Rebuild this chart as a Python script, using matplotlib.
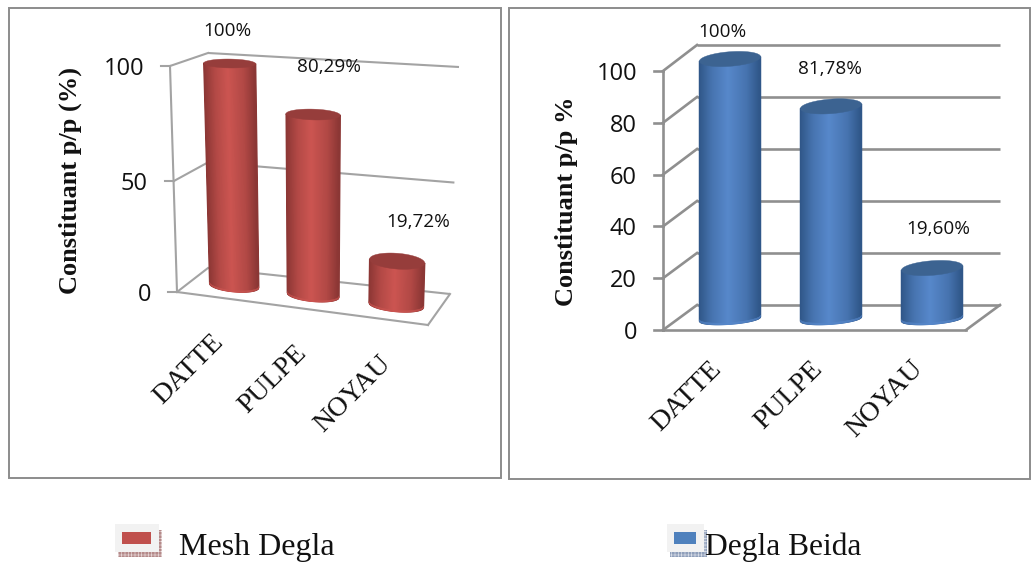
import numpy as np
import matplotlib
matplotlib.use('Agg')
import matplotlib.pyplot as plt
from matplotlib.collections import PolyCollection
from matplotlib.patches import Rectangle
from matplotlib.transforms import Transform

categories = ['DATTE', 'PULPE', 'NOYAU']

mesh_values = [100, 80.29, 19.72]
mesh_labels = ['100%', '80,29%', '19,72%']
mesh_ticks = [0, 50, 100]

beida_values = [100, 81.78, 19.60]
beida_labels = ['100%', '81,78%', '19,60%']
beida_ticks = [0, 20, 40, 60, 80, 100]

SERIF = 'Liberation Serif'
SANS = 'Open Sans'


class Plane(Transform):
    """Projective map from (category, value) to page pixels, set by four corners."""
    input_dims = 2
    output_dims = 2

    def __init__(self, src, dst):
        super().__init__()
        A, b = [], []
        for (x, y), (u, v) in zip(src, dst):
            A.append([x, y, 1, 0, 0, 0, -u * x, -u * y])
            A.append([0, 0, 0, x, y, 1, -v * x, -v * y])
            b += [u, v]
        self.h = np.append(np.linalg.solve(np.array(A, float), np.array(b, float)), 1).reshape(3, 3)

    def transform_non_affine(self, xy):
        xy = np.asarray(xy, float)
        p = np.column_stack([xy, np.ones(len(xy))]) @ self.h.T
        return p[:, :2] / p[:, 2:]


def mix(c0, c1, t):
    return np.array(c0) + (np.array(c1) - np.array(c0)) * t


def rgb(h):
    return np.array(matplotlib.colors.to_rgb(h))


def cylinder(ax, tr, i, value, half, b_base, b_top, tilt, light, dark, top):
    u = np.linspace(-1, 1, 61)
    x = i + half * u
    arc = np.sqrt(1 - u ** 2)
    low = tilt * u - b_base * arc
    high = value + tilt * u - b_top(value) * arc
    rim = low + 0.6

    # solid silhouette first so the shading strips leave no seams
    ax.fill(np.r_[x, x[::-1]], np.r_[low, high[::-1]], color=mix(rgb(dark), rgb(light), 0.6), lw=0,
            transform=tr, zorder=2.9)

    verts, cols, rim_verts, rim_cols = [], [], [], []
    shade = np.interp((u[:-1] + u[1:]) / 2, [-1, -0.55, -0.05, 0.55, 1], [0.0, 0.62, 1.0, 0.6, 0.0])
    for k in range(len(u) - 1):
        c = mix(rgb(dark), rgb(light), shade[k])
        verts.append([(x[k], low[k]), (x[k + 1], low[k + 1]), (x[k + 1], high[k + 1]), (x[k], high[k])])
        cols.append(c)
        rim_verts.append([(x[k], low[k]), (x[k + 1], low[k + 1]), (x[k + 1], rim[k + 1]), (x[k], rim[k])])
        rim_cols.append(mix(c, rgb(light), 0.7))
    ax.add_collection(PolyCollection(verts, facecolors=cols, edgecolors=cols, linewidths=0.9,
                                     transform=tr, zorder=3), autolim=False)
    ax.add_collection(PolyCollection(rim_verts, facecolors=rim_cols, edgecolors=rim_cols, linewidths=0.3,
                                     transform=tr, zorder=3.1), autolim=False)

    t = np.linspace(0, 2 * np.pi, 90)
    ax.fill(i + half * np.cos(t), value + tilt * np.cos(t) + b_top(value) * np.sin(t),
            color=top, lw=0.3, transform=tr, zorder=4)


def draw_walls(ax, front, back, ticks, color, lw):
    xmin, xmax = -0.5, 2.5
    to_page = ax.transData
    for v in ticks:
        ax.plot([xmin, xmax], [v, v], color=color, lw=lw, transform=back + to_page, zorder=1,
                solid_capstyle='butt')
        a = front.transform([[xmin, v]])[0]
        c = back.transform([[xmin, v]])[0]
        ax.plot([a[0], c[0]], [a[1], c[1]], color=color, lw=lw, zorder=1)
        ax.plot([a[0] - 9, a[0]], [a[1], a[1]], color=color, lw=lw, zorder=1)
    ax.plot([xmin, xmin], [ticks[0], ticks[-1]], color=color, lw=lw, transform=front + to_page, zorder=1)
    ax.plot([xmin, xmax], [0, 0], color=color, lw=lw, transform=front + to_page, zorder=1)
    a = front.transform([[xmax, 0]])[0]
    c = back.transform([[xmax, 0]])[0]
    ax.plot([a[0], c[0]], [a[1], c[1]], color=color, lw=lw, zorder=1)


def axis_text(ax, front, ticks, cat_offset):
    tr = front + ax.transData
    for v in ticks:
        ax.annotate(str(v), xy=(-0.5, v), xycoords=tr, xytext=(-26, -3), textcoords='offset pixels',
                    ha='right', va='center', fontsize=17, family=SANS, color='#111111')
    for i, name in enumerate(categories):
        ax.annotate(name, xy=(i, 0), xycoords=tr, xytext=cat_offset, textcoords='offset pixels',
                    ha='right', va='center', rotation=45, rotation_mode='anchor',
                    fontsize=20, family=SERIF, color='#111111')


def frame(ax, x0, y0, x1, y1):
    ax.add_patch(Rectangle((x0, y0), x1 - x0, y1 - y0, fill=False, ec='#8c8c8c', lw=1.4, zorder=0))


def legend_key(ax, x0, width, face, shadow):
    ax.add_patch(Rectangle((x0 + 3, 530), width, 27, fc=shadow, ec='white', hatch='+++++', lw=0, zorder=1))
    ax.add_patch(Rectangle((x0, 524), width, 28, fc='#f2f2f2', ec='none', zorder=2))
    ax.add_patch(Rectangle((x0 + 7, 532), width - 15, 12, fc=face, ec='none', zorder=3))


plt.rcParams['hatch.linewidth'] = 0.3

fig = plt.figure(figsize=(10.34, 5.63), dpi=100)
page = fig.add_axes([0, 0, 1, 1])
page.set_xlim(0, 1034)
page.set_ylim(563, 0)
page.axis('off')

frame(page, 9, 8, 501, 478)
frame(page, 509, 8, 1030, 479)

corners = [(-0.5, 0), (2.5, 0), (-0.5, 100), (2.5, 100)]
bar_corners = [(0, 0), (2, 0), (0, 100), (2, 100)]

# left chart, tilted in perspective
front = Plane(corners, [(177, 292), (428, 325), (170, 66), (431, 95)])
back = Plane(corners, [(208, 268), (450, 294), (208, 53), (459, 67)])
bars = Plane(bar_corners, [(234, 285.5), (396, 305), (229.5, 63.5), (401, 72)])
draw_walls(page, front, back, mesh_ticks, '#a3a3a3', 1.5)
axis_text(page, front, mesh_ticks, (2, -41))
for i, v in enumerate(mesh_values):
    cylinder(page, bars + page.transData, i, v, 0.32, 3.0, lambda val: 3.9 - 0.02 * val, 0.4,
             '#cc5551', '#8a3634', '#963d3b')
for v, s, pos in zip(mesh_values, mesh_labels, [(227, 31), (329, 67), (418, 222)]):
    page.text(pos[0], pos[1], s, ha='center', va='center', fontsize=13.6, family=SANS, color='#111111', zorder=5)
page.text(70, 180, 'Constituant p/p (%)', rotation=90, ha='center', va='center',
          fontsize=19, family=SERIF, weight='bold', color='#111111')

# right chart, straight on
front = Plane(corners, [(663, 330), (966, 330), (663, 71), (966, 71)])
back = Plane(corners, [(697, 305), (1000, 305), (697, 45), (1000, 45)])
bars = Plane(bar_corners, [(730, 319), (932, 319), (730, 59), (932, 59)])
draw_walls(page, front, back, beida_ticks, '#8f8f8f', 1.9)
axis_text(page, front, beida_ticks, (4, -35))
for i, v in enumerate(beida_values):
    cylinder(page, bars + page.transData, i, v, 0.303, 2.0, lambda val: 2.8, 0.85,
             '#5788cb', '#2f5687', '#3c6391')
for v, s, pos in zip(beida_values, beida_labels, [(722, 32), (830, 69), (938, 229)]):
    page.text(pos[0], pos[1], s, ha='center', va='center', fontsize=13.6, family=SANS, color='#111111', zorder=5)
page.text(566, 201, 'Constituant p/p %', rotation=90, ha='center', va='center',
          fontsize=19, family=SERIF, weight='bold', color='#111111')

legend_key(page, 115, 44, '#c0504d', '#b58a8a')
legend_key(page, 667, 37, '#4f81bd', '#8f9fba')
page.text(179, 547, 'Mesh Degla', ha='left', va='center', fontsize=23, family=SERIF, color='#111111', zorder=5)
page.text(705, 547, 'Degla Beida', ha='left', va='center', fontsize=22.7, family=SERIF, color='#111111', zorder=5)

fig.savefig('out.png', dpi=100)
